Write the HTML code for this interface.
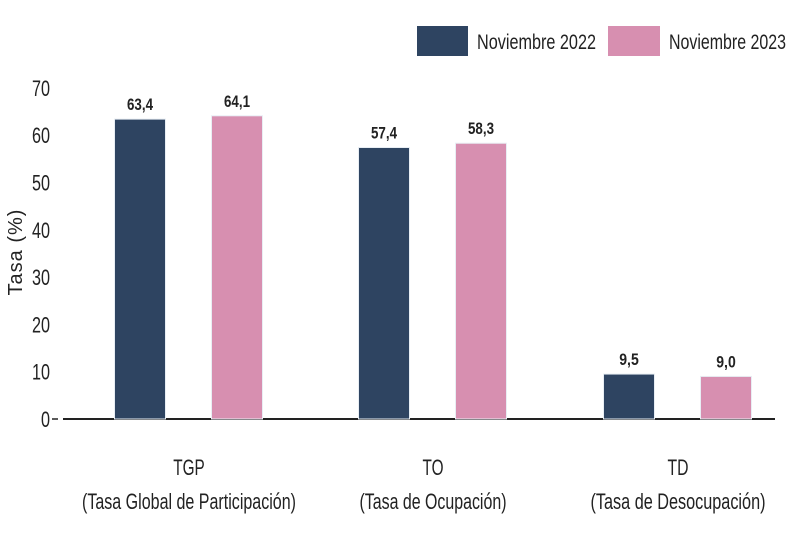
<!DOCTYPE html>
<html><head><meta charset="utf-8"><style>
body{margin:0;background:#fff;width:800px;height:533px;overflow:hidden}
svg text{font-family:"Liberation Sans",sans-serif;fill:#222}
</style></head><body>
<svg id="chart" width="800" height="533" xmlns="http://www.w3.org/2000/svg">
<g id="legend">
<rect x="417" y="26" width="51" height="30" fill="#2e4461"/>
<text x="477" y="49" font-size="21" textLength="119" lengthAdjust="spacingAndGlyphs">Noviembre 2022</text>
<rect x="608" y="26" width="52" height="30" fill="#d78fb0"/>
<text x="669" y="49" font-size="21" textLength="117" lengthAdjust="spacingAndGlyphs">Noviembre 2023</text>
</g>
<text transform="translate(22,252) rotate(-90)" text-anchor="middle" font-size="20" letter-spacing="1">Tasa (%)</text>
<line x1="63" y1="419" x2="775" y2="419" stroke="#222" stroke-width="2"/>
<line x1="52" y1="419" x2="58" y2="419" stroke="#222" stroke-width="1.5"/>
<g id="ticks"></g><g id="bars"></g><g id="cats"></g>
</svg>
<script>
const categories=["TGP","TO","TD"];
const catSub=["(Tasa Global de Participación)","(Tasa de Ocupación)","(Tasa de Desocupación)"];
const series2022=[63.4,57.4,9.5];
const series2023=[64.1,58.3,9.0];
const tickValues=[0,10,20,30,40,50,60,70];
const NS="http://www.w3.org/2000/svg";
const y0=419,k=4.73;
function yScale(v){return y0-v*k;}
const groupCenters=[189,433,678];
const subWidths=[214,147,175];
function mk(tag,attrs,parent){const e=document.createElementNS(NS,tag);for(const a in attrs)e.setAttribute(a,attrs[a]);parent.appendChild(e);return e;}
const ticks=document.getElementById('ticks'),bars=document.getElementById('bars'),cats=document.getElementById('cats');
tickValues.forEach(v=>{const s=String(v);const w=s.length*9;
const t=mk('text',{x:50-w,y:yScale(v)+8,'font-size':'22',textLength:w,lengthAdjust:'spacingAndGlyphs'},ticks);t.textContent=s;

});
function fmt(v){return v.toFixed(1).replace('.',',');}
[[series2022,'#2e4461',-49,'2022'],[series2023,'#d78fb0',48,'2023']].forEach(([s,c,off,nm])=>{
s.forEach((v,i)=>{const cx=groupCenters[i]+off;
const r=mk('rect',{x:cx-25.5,y:yScale(v),width:51,height:y0-yScale(v),fill:c,stroke:'#e8eef4','stroke-width':'1'},bars);


const txt=fmt(v);const w=txt.length*6.5;
const t=mk('text',{x:cx-w/2,y:yScale(v)-9,'font-size':'17','font-weight':'bold',textLength:w,lengthAdjust:'spacingAndGlyphs'},bars);t.textContent=txt;

});});
categories.forEach((c,i)=>{const w=c.length*10.5;
const t=mk('text',{x:groupCenters[i]-w/2,y:475,'font-size':'22',textLength:w,lengthAdjust:'spacingAndGlyphs'},cats);t.textContent=c;


const sw=subWidths[i];
const s=mk('text',{x:groupCenters[i]-sw/2,y:509,'font-size':'22',textLength:sw,lengthAdjust:'spacingAndGlyphs'},cats);s.textContent=catSub[i];

});
</script>
</body></html>
